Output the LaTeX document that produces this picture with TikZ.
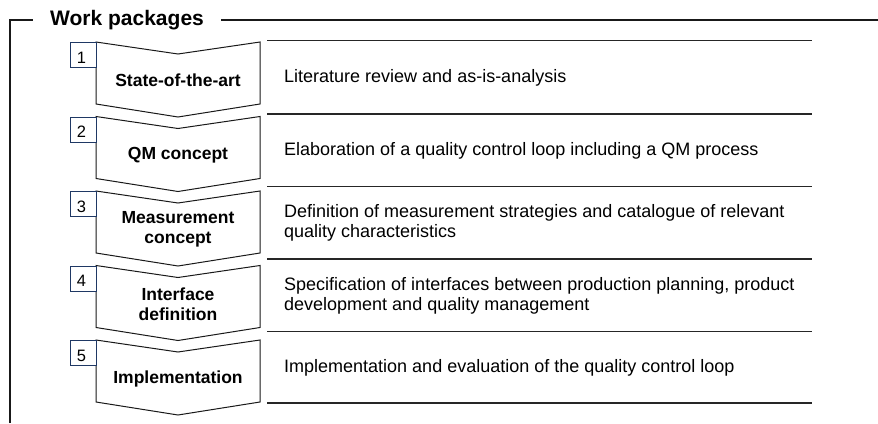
\documentclass[tikz,border=0pt]{standalone}
\usepackage{fontspec}
\setmainfont{Liberation Sans}
\definecolor{navy}{HTML}{1F3864}
\begin{document}
\begin{tikzpicture}[x=1pt,y=-1pt,
  frameline/.style={line width=1.3pt,black!90},
  chev/.style={line width=1pt,black!90},
  sepline/.style={line width=1.5pt,black!85},
  numbox/.style={draw=navy,line width=1.2pt,fill=white,minimum width=26pt,minimum height=25pt,inner sep=0pt,anchor=north west},
  numtxt/.style={font=\fontsize{16.5}{18}\selectfont,anchor=base,inner sep=0pt},
  label/.style={font=\fontsize{17.5}{19.5}\selectfont\bfseries,align=center,inner sep=0pt,anchor=center},
  desc/.style={font=\fontsize{18}{20}\selectfont,align=left,inner sep=0pt,anchor=west},
  title/.style={font=\fontsize{21}{24}\selectfont\bfseries,inner sep=0pt,anchor=west}]
\useasboundingbox (0,0) rectangle (878,423);
% frame
\node[title] (title) at (50,20) {Work packages};
\coordinate (fbl) at (10,423);
\coordinate (ftl) at (10,20);
\coordinate (ftr) at (878,20);
\draw[frameline] (fbl) -- (ftl) -- ([xshift=-17pt]title.west);
\draw[frameline] ([xshift=17pt]title.east) -- (ftr);
% separator lines
\foreach \y [count=\i] in {40.5,114,186.5,259,331.5,403} {
  \coordinate (sl\i) at (267,\y);
  \coordinate (sr\i) at (812,\y);
  \draw[sepline] (sl\i) -- (sr\i);
}
% chevrons
\foreach \t [count=\i] in {42,116.5,191,265.5,340} {
  \draw[chev,fill=white] (96,\t) -- (178,\t+12) -- (260,\t) -- (260,\t+62) -- (178,\t+75) -- (96,\t+62) -- cycle;
  \node[numbox] (b\i) at (70,\t) {};
  \node[numtxt] (n\i) at (81.5,\t+21) {\i};
  \coordinate (c\i) at (178,\t+38.5);
}
\node[label] (l1) at (c1) {State-of-the-art};
\node[label] (l2) at (c2) {QM concept};
\node[label] (l3) at (c3) {Measurement\\concept};
\node[label] (l4) at (c4) {Interface\\definition};
\node[label] (l5) at (c5) {Implementation};
% descriptions
\node[desc] (d1) at (284,78) {Literature review and as-is-analysis};
\node[desc] (d2) at (284,150.5) {Elaboration of a quality control loop including a QM process};
\node[desc] (d3) at (284,222.5) {Definition of measurement strategies and catalogue of relevant\\quality characteristics};
\node[desc] (d4) at (284,295.5) {Specification of interfaces between production planning, product\\development and quality management};
\node[desc] (d5) at (284,367.5) {Implementation and evaluation of the quality control loop};
\end{tikzpicture}
\end{document}
